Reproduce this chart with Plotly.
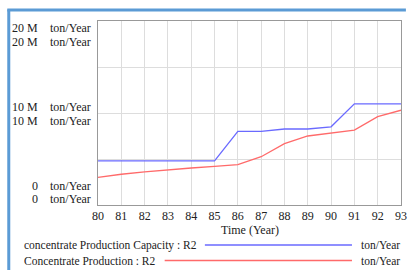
import plotly.graph_objects as go

years = list(range(80, 94))
capacity = [4.8e6, 4.8e6, 4.8e6, 4.8e6, 4.8e6, 4.8e6, 8.0e6, 8.0e6, 8.26e6, 8.26e6, 8.5e6, 11.0e6, 11.0e6, 11.0e6]
production = [3.0e6, 3.34e6, 3.59e6, 3.84e6, 4.02e6, 4.2e6, 4.38e6, 5.25e6, 6.67e6, 7.5e6, 7.86e6, 8.15e6, 9.6e6, 10.3e6]
y_labels = ["20 M", "10 M", "0"]
unit = "ton/Year"
legend_names = ["concentrate Production Capacity : R2", "Concentrate Production : R2"]
colors = ["#6a6aff", "#ff6a6a"]

FONT = "Liberation Serif"
W, H = 412, 270
L, R, T, B = 98, 5, 21, 65
PW, PH = W - L - R, H - T - B

def px(x):
    return (x - L) / PW

def py(y):
    return (T + PH - y) / PH

fig = go.Figure()
fig.add_trace(go.Scatter(x=years, y=capacity, mode="lines", line=dict(color=colors[0], width=1.3), showlegend=False))
fig.add_trace(go.Scatter(x=years, y=production, mode="lines", line=dict(color=colors[1], width=1.3), showlegend=False))

fig.update_layout(
    width=W, height=H,
    margin=dict(l=L, r=R, t=T, b=B),
    paper_bgcolor="white", plot_bgcolor="white",
    font=dict(family=FONT, size=12, color="#222"),
    xaxis=dict(range=[79.999, 93.001], tickvals=years, ticktext=[str(y) for y in years],
               showgrid=True, gridcolor="#dddddd", gridwidth=1,
               showline=True, linecolor="#999999", linewidth=1, mirror=True,
               ticks="", zeroline=False, ticklabeloverflow="allow",
               tickfont=dict(family=FONT, size=12, color="#222")),
    yaxis=dict(range=[0, 20e6], tickvals=[0, 5e6, 10e6, 15e6, 20e6], showticklabels=False,
               showgrid=True, gridcolor="#dddddd", gridwidth=1,
               showline=True, linecolor="#999999", linewidth=1, mirror=True,
               ticks="", zeroline=False),
)

ann = []
rows = [(28, 42), (106.7, 120.7), (186, 198.7)]
for lab, (y1, y2) in zip(y_labels, rows):
    for yy in (y1, y2):
        ann.append(dict(x=px(39), y=py(yy), xref="paper", yref="paper", text=lab, showarrow=False,
                        xanchor="right", yanchor="middle", font=dict(family=FONT, size=12, color="#222")))
        ann.append(dict(x=px(47), y=py(yy), xref="paper", yref="paper", text=unit, showarrow=False,
                        xanchor="left", yanchor="middle", font=dict(family=FONT, size=12, color="#222")))
ann.append(dict(x=0.5, y=py(230), xref="paper", yref="paper", text="Time (Year)", showarrow=False,
                xanchor="center", yanchor="middle", font=dict(family=FONT, size=12, color="#222")))
leg_rows = [(245, 207), (260.5, 166)]
shapes = []
for name, col, (yy, lx0) in zip(legend_names, colors, leg_rows):
    ann.append(dict(x=px(21), y=py(yy), xref="paper", yref="paper", text=name, showarrow=False,
                    xanchor="left", yanchor="middle", font=dict(family=FONT, size=11.5, color="#222")))
    ann.append(dict(x=px(408), y=py(yy), xref="paper", yref="paper", text=unit, showarrow=False,
                    xanchor="right", yanchor="middle", font=dict(family=FONT, size=11.5, color="#222")))
    shapes.append(dict(type="line", xref="paper", yref="paper", x0=px(lx0), x1=px(357),
                       y0=py(yy), y1=py(yy), line=dict(color=col, width=1.3)))
shapes.append(dict(type="line", xref="paper", yref="paper", x0=px(7), x1=px(7), y0=py(9.5), y1=py(270),
                   line=dict(color="#5b9bd5", width=3)))
shapes.append(dict(type="line", xref="paper", yref="paper", x0=px(5.5), x1=px(412), y0=py(10), y1=py(10),
                   line=dict(color="#5b9bd5", width=3)))

fig.update_layout(annotations=ann, shapes=shapes)
fig.write_html("out.html", config={"displayModeBar": False},
               post_script="document.body.style.margin='0';document.body.style.padding='0';")
